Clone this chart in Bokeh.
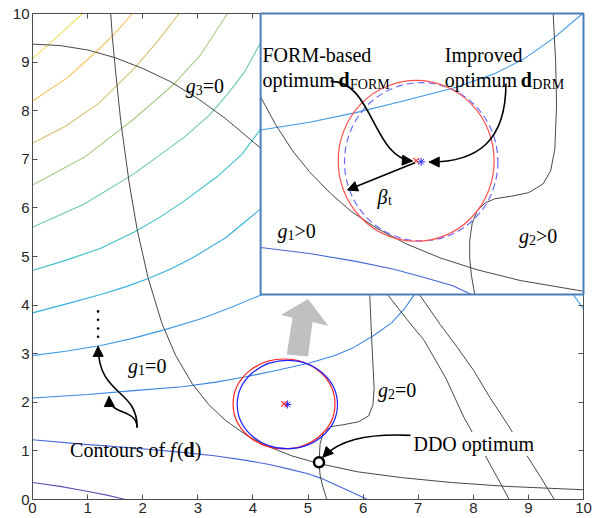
from bokeh.plotting import figure
from bokeh.models import Range1d, FixedTicker, LinearAxis, Label, Arrow, NormalHead
from bokeh.embed import file_html
from bokeh.resources import INLINE

# ---------------- data ----------------
TICKS = [0, 1, 2, 3, 4, 5, 6, 7, 8, 9, 10]

# contours of f(d) in the main view, lowest level first
fK_x = [0, 0.5, 0.94, 1.35, 1.69]
fK_y = [0.35, 0.27, 0.18, 0.09, 0.0]
fJ_x = [0, 0.9, 1.84, 2.72, 3.3, 3.85, 4.3, 4.64, 5.0, 5.23, 5.6, 6.08]
fJ_y = [1.23, 1.14, 1.06, 0.97, 0.90, 0.81, 0.72, 0.63, 0.53, 0.44, 0.25, 0.0]
fI_x = [0, 1.0, 1.84, 2.72, 3.3, 3.85, 4.4, 5.03, 5.5, 5.83, 6.2, 6.52, 6.75, 6.93]
fI_y = [2.09, 2.16, 2.24, 2.32, 2.41, 2.52, 2.65, 2.81, 2.97, 3.13, 3.38, 3.64, 3.92, 4.22]
fH_x = [0, 0.6, 1.24, 1.8, 2.39, 3.06, 3.6, 4.17]
fH_y = [2.96, 3.05, 3.17, 3.31, 3.49, 3.72, 3.95, 4.22]
fH2_x = [9.81, 10.0]
fH2_y = [4.22, 3.92]
fG_x = [0, 0.6, 1.24, 1.7, 2.09, 2.5, 2.9, 3.5, 4.14]
fG_y = [3.84, 4.02, 4.22, 4.38, 4.54, 4.74, 4.97, 5.38, 5.98]
fF_x = [0, 0.6, 1.24, 1.84, 2.3, 2.75, 3.36, 3.8, 4.14]
fF_y = [4.71, 4.92, 5.17, 5.5, 5.8, 6.14, 6.65, 7.1, 7.62]
fE_x = [0, 0.94, 1.84, 2.75, 3.2, 3.54, 3.85, 4.14]
fE_y = [5.6, 6.08, 6.7, 7.45, 7.9, 8.34, 8.8, 9.4]
fD_x = [0, 0.94, 1.84, 2.57, 3.05, 3.54]
fD_y = [6.47, 7.04, 7.83, 8.55, 9.15, 10.0]
fC_x = [0, 0.6, 1.2, 1.84, 2.25, 2.66]
fC_y = [7.33, 7.68, 8.15, 8.86, 9.4, 10.0]
fB_x = [0, 0.635, 1.24, 1.53, 1.815]
fB_y = [8.2, 8.68, 9.3, 9.63, 10.0]
fA_x = [0, 0.33, 0.62, 0.91]
fA_y = [9.07, 9.4, 9.7, 10.0]
CONTOUR_COLORS = ["#5b55b8", "#4766d8", "#3a86e4", "#3f9ae6", "#35b0de", "#3cc0c8",
                  "#6cc9a8", "#a6cb84", "#d9c072", "#f9c25a", "#f3df58"]

# constraint boundaries (main view)
g1_x = [1.42, 1.45, 1.5, 1.6, 1.75, 1.9, 2.1, 2.35, 2.6, 2.9, 3.2, 3.5, 3.9, 4.3, 4.7, 5.2, 5.9, 6.7, 7.6, 8.6, 10.0]
g1_y = [10.0, 9.5, 8.9, 7.8, 6.55, 5.55, 4.55, 3.62, 2.96, 2.38, 1.95, 1.63, 1.31, 1.08, 0.9, 0.74, 0.57, 0.45, 0.35, 0.27, 0.2]
g2_x = [6.12, 6.16, 6.2, 6.18, 6.1, 5.92, 5.65, 5.42, 5.28, 5.22, 5.2, 5.22, 5.26, 5.3, 5.34]
g2_y = [4.22, 3.2, 2.3, 1.95, 1.72, 1.6, 1.54, 1.5, 1.38, 1.15, 0.77, 0.5, 0.3, 0.15, 0.0]
g2a_x = [6.44, 6.8, 7.11, 7.5, 7.83, 8.17, 8.5, 8.65]
g2a_y = [4.22, 3.7, 3.27, 2.5, 1.69, 1.0, 0.32, 0.0]
g2b_x = [7.02, 7.4, 7.71, 8.01, 8.3, 8.62, 8.92, 9.2, 9.47]
g2b_y = [4.22, 3.6, 3.13, 2.65, 2.1, 1.55, 1.0, 0.5, 0.0]
g3_x = [0, 0.5, 1.0, 1.5, 2.0, 2.5, 3.0, 3.5, 4.14]
g3_y = [9.37, 9.34, 9.25, 9.09, 8.87, 8.6, 8.25, 7.84, 7.23]

# optima
FORM_OPT = (4.565, 1.966)
DRM_OPT = (4.625, 1.955)
FORM_R = 0.925
DRM_R = 0.91
DDO_OPT = (5.2, 0.765)

# inset: where it sits in the main axes and which window it shows
BOX = (4.14, 10.0, 4.22, 10.0)
VIEW = (2.72, 6.55, 0.43, 3.66)

# curves inside the inset (inset coordinates)
ig1_x = [2.72, 2.9, 3.1, 3.3, 3.55, 3.8, 4.1, 4.45, 4.85, 5.3, 5.8, 6.55]
ig1_y = [2.70, 2.38, 2.08, 1.84, 1.59, 1.38, 1.19, 1.01, 0.85, 0.71, 0.59, 0.466]
ig2_x = [6.19, 6.22, 6.23, 6.21, 6.16, 6.07, 5.9, 5.7, 5.5, 5.38, 5.29, 5.23, 5.2, 5.2, 5.22, 5.26]
ig2_y = [3.66, 3.1, 2.6, 2.1, 1.85, 1.7, 1.6, 1.56, 1.53, 1.48, 1.39, 1.25, 1.05, 0.85, 0.65, 0.43]
iI_x = [2.72, 3.3, 3.85, 4.4, 5.03, 5.5, 5.83, 6.2, 6.54]
iI_y = [2.32, 2.41, 2.52, 2.65, 2.81, 2.97, 3.13, 3.38, 3.66]
iJ_x = [2.72, 3.3, 3.85, 4.3, 4.64, 5.0, 5.22]
iJ_y = [0.97, 0.90, 0.81, 0.72, 0.63, 0.53, 0.43]

# annotation geometry
BIG_ARROW_X = [5.002, 4.506, 4.718, 4.615, 5.002, 5.082, 5.372]
BIG_ARROW_Y = [4.126, 3.797, 3.742, 2.981, 2.940, 3.651, 3.569]
DOTS_X = [1.19, 1.19, 1.19, 1.19]
DOTS_Y = [3.35, 3.52, 3.70, 3.87]
ARROW_CONT1 = [(1.9, 1.48), (1.9, 2.3), (1.2, 2.1), (1.19, 3.15)]
ARROW_CONT2 = [(1.9, 1.48), (1.88, 1.9), (1.4, 1.7), (1.39, 2.12)]
ARROW_DDO = [(6.86, 1.32), (6.0, 1.36), (5.55, 1.2), (5.27, 0.87)]
ARROW_FORM = [(3.55, 2.88), (4.05, 2.89), (4.05, 2.0), (4.52, 1.964)]
ARROW_DRM = [(5.63, 2.855), (5.63, 2.2), (5.3, 1.95), (4.72, 1.952)]
ARROW_BETA = [(4.55, 1.945), (3.75, 1.63)]

# ---------------- figure ----------------
p = figure(frame_width=551, frame_height=486, x_range=Range1d(0, 10), y_range=Range1d(0, 10),
           output_backend="svg", toolbar_location=None,
           min_border_left=32, min_border_right=12, min_border_top=13, min_border_bottom=0)
p.grid.visible = False
p.outline_line_color = None
p.background_fill_color = "white"

AX_COL = "#4d4d4d"
for ax in (p.xaxis[0], p.yaxis[0]):
    ax.ticker = FixedTicker(ticks=TICKS)
    ax.major_tick_in = 5
    ax.major_tick_out = 0
    ax.minor_tick_line_color = None
    ax.axis_line_color = AX_COL
    ax.major_tick_line_color = AX_COL
    ax.major_label_text_font = "Liberation Sans"
    ax.major_label_text_font_size = "15px"
    ax.major_label_text_color = "#262626"
    ax.major_label_standoff = 3

for side in ("above", "right"):
    ax = LinearAxis(ticker=FixedTicker(ticks=TICKS), major_tick_in=5, major_tick_out=0,
                    minor_tick_line_color=None, axis_line_color=AX_COL, major_tick_line_color=AX_COL,
                    major_label_text_font_size="0px", major_label_standoff=0,
                    major_label_overrides={t: "" for t in TICKS})
    p.add_layout(ax, side)

# main contours
contours = [(fK_x, fK_y), (fJ_x, fJ_y), (fI_x, fI_y), (fH_x, fH_y), (fG_x, fG_y), (fF_x, fF_y),
            (fE_x, fE_y), (fD_x, fD_y), (fC_x, fC_y), (fB_x, fB_y), (fA_x, fA_y)]
for (cx, cy), col in zip(contours, CONTOUR_COLORS):
    p.line(cx, cy, line_color=col, line_width=1.1)
p.line(fH2_x, fH2_y, line_color=CONTOUR_COLORS[3], line_width=1.1)

G_COL = "#484848"
for gx, gy in ((g1_x, g1_y), (g2_x, g2_y), (g2a_x, g2a_y), (g2b_x, g2b_y), (g3_x, g3_y)):
    p.line(gx, gy, line_color=G_COL, line_width=1)

# circles and optima in main view
p.ellipse(x=[FORM_OPT[0]], y=[FORM_OPT[1]], width=2 * FORM_R, height=2 * FORM_R,
          fill_color=None, line_color="#ff2020", line_width=1.2)
p.ellipse(x=[DRM_OPT[0]], y=[DRM_OPT[1]], width=2 * DRM_R, height=2 * DRM_R,
          fill_color=None, line_color="#2020ff", line_width=1.2)
p.scatter([DRM_OPT[0]], [DRM_OPT[1]], marker="asterisk", size=8, line_color="#2020ff", line_width=1)
p.scatter([FORM_OPT[0]], [FORM_OPT[1]], marker="x", size=8, line_color="#ff3030", line_width=1.2)
p.scatter([DDO_OPT[0]], [DDO_OPT[1]], marker="circle", size=10, fill_color="white",
          line_color="black", line_width=2.5)

# big grey arrow
p.patch(BIG_ARROW_X, BIG_ARROW_Y, fill_color="#c0c0c0", line_color=None)

# dots above the contour arrows
p.scatter(DOTS_X, DOTS_Y, marker="circle", size=2.6, fill_color="black", line_color=None)


def curved_arrow(pts, xr="default", yr="default", level="glyph"):
    (x0, y0), (c1x, c1y), (c2x, c2y), (x1, y1) = pts
    p.bezier(x0=[x0], y0=[y0], x1=[x1], y1=[y1], cx0=[c1x], cy0=[c1y], cx1=[c2x], cy1=[c2y],
             line_color="black", line_width=1.6, x_range_name=xr, y_range_name=yr, level=level)
    sx = x1 - 0.08 * (x1 - c2x)
    sy = y1 - 0.08 * (y1 - c2y)
    p.add_layout(Arrow(end=NormalHead(size=10, fill_color="black", line_color="black", line_width=1),
                       x_start=sx, y_start=sy, x_end=x1, y_end=y1, line_width=1.6, line_color="black",
                       x_range_name=xr, y_range_name=yr,
                       level="overlay" if level == "overlay" else "annotation"))


curved_arrow(ARROW_CONT1)
curved_arrow(ARROW_CONT2)
curved_arrow(ARROW_DDO)

# ---------------- inset ----------------
def inset_range(b0, b1, v0, v1):
    k = (v1 - v0) / (b1 - b0)
    return Range1d(v0 + (0 - b0) * k, v0 + (10 - b0) * k)


p.extra_x_ranges = {"ix": inset_range(BOX[0], BOX[1], VIEW[0], VIEW[1])}
p.extra_y_ranges = {"iy": inset_range(BOX[2], BOX[3], VIEW[2], VIEW[3])}

p.quad(left=[BOX[0]], right=[BOX[1]], bottom=[BOX[2]], top=[BOX[3]], fill_color="white",
       line_color=None, level="overlay")
IN = dict(x_range_name="ix", y_range_name="iy", level="overlay")
p.line(iI_x, iI_y, line_color=CONTOUR_COLORS[3], line_width=1.1, **IN)
p.line(iJ_x, iJ_y, line_color=CONTOUR_COLORS[1], line_width=1.1, **IN)
p.line(ig1_x, ig1_y, line_color=G_COL, line_width=1, **IN)
p.line(ig2_x, ig2_y, line_color=G_COL, line_width=1, **IN)
p.ellipse(x=[DRM_OPT[0]], y=[DRM_OPT[1]], width=2 * DRM_R, height=2 * DRM_R, fill_color=None,
          line_color="#6a6aff", line_width=1.2, line_dash="7 4", **IN)
p.ellipse(x=[FORM_OPT[0]], y=[FORM_OPT[1]], width=2 * FORM_R, height=2 * FORM_R, fill_color=None,
          line_color="#ff5050", line_width=1.2, **IN)
p.scatter([DRM_OPT[0]], [DRM_OPT[1]], marker="asterisk", size=8, line_color="#3030ff", line_width=1, **IN)
p.scatter([FORM_OPT[0]], [FORM_OPT[1]], marker="x", size=8, line_color="#ff4040", line_width=1.2, **IN)
curved_arrow(ARROW_FORM, "ix", "iy", "overlay")
curved_arrow(ARROW_DRM, "ix", "iy", "overlay")
p.add_layout(Arrow(end=NormalHead(size=10, fill_color="black", line_color="black", line_width=1),
                   x_start=ARROW_BETA[0][0], y_start=ARROW_BETA[0][1],
                   x_end=ARROW_BETA[1][0], y_end=ARROW_BETA[1][1], line_width=1.6,
                   x_range_name="ix", y_range_name="iy", level="overlay"))
p.quad(left=[BOX[0]], right=[BOX[1]], bottom=[BOX[2]], top=[BOX[3]], fill_color=None,
       line_color="#4a7ebb", line_width=2, level="overlay")


# ---------------- texts ----------------
def rich(x, y, parts, level="annotation", bg=None):
    for txt, dx, dy, style, size in parts:
        kw = {}
        if bg is not None:
            kw = dict(background_fill_color=bg, padding=1)
        p.add_layout(Label(x=x, y=y, x_offset=dx, y_offset=dy, text=txt,
                           text_font="Liberation Serif", text_font_style=style,
                           text_font_size=f"{size}px", text_color="black",
                           text_baseline="alphabetic", text_align="left", level=level, **kw))


def gtext(x, y, sub, rest, level="annotation"):
    rich(x, y, [("g", 0, 0, "italic", 20), (sub, 10, -4, "normal", 14), (rest, 17, 0, "normal", 20)], level)


gtext(2.782, 8.513, "3", "=0")
gtext(1.735, 2.754, "1", "=0")
gtext(6.272, 2.254, "2", "=0")
rich(0.682, 1.02, [("Contours of ", 0, 0, "normal", 20), ("f", 100, 0, "italic", 20),
                   ("(", 107, 0, "normal", 20), ("d", 113.5, 0, "bold", 20), (")", 124.6, 0, "normal", 20)])
rich(6.896, 1.144, [("DDO optimum", 0, 0, "normal", 20)], bg="white")

rich(4.174, 9.145, [("FORM-based", 0, 0, "normal", 20)], level="overlay")
rich(4.174, 8.63, [("optimum", 0, 0, "normal", 20), ("d", 76, 0, "bold", 20),
                   ("FORM", 87.5, -4, "normal", 14)], level="overlay")
rich(7.483, 9.15, [("Improved", 0, 0, "normal", 20)], level="overlay")
rich(7.483, 8.63, [("optimum", 0, 0, "normal", 20), ("d", 76, 0, "bold", 20),
                   ("DRM", 87.5, -4, "normal", 14)], level="overlay")
rich(6.261, 6.23, [("\u03b2", 0, 0, "italic", 20), ("t", 10.5, -4, "normal", 14)], level="overlay")
gtext(4.446, 5.531, "1", ">0", level="overlay")
gtext(8.831, 5.428, "2", ">0", level="overlay")

open("out.html", "w").write(file_html(p, INLINE))
